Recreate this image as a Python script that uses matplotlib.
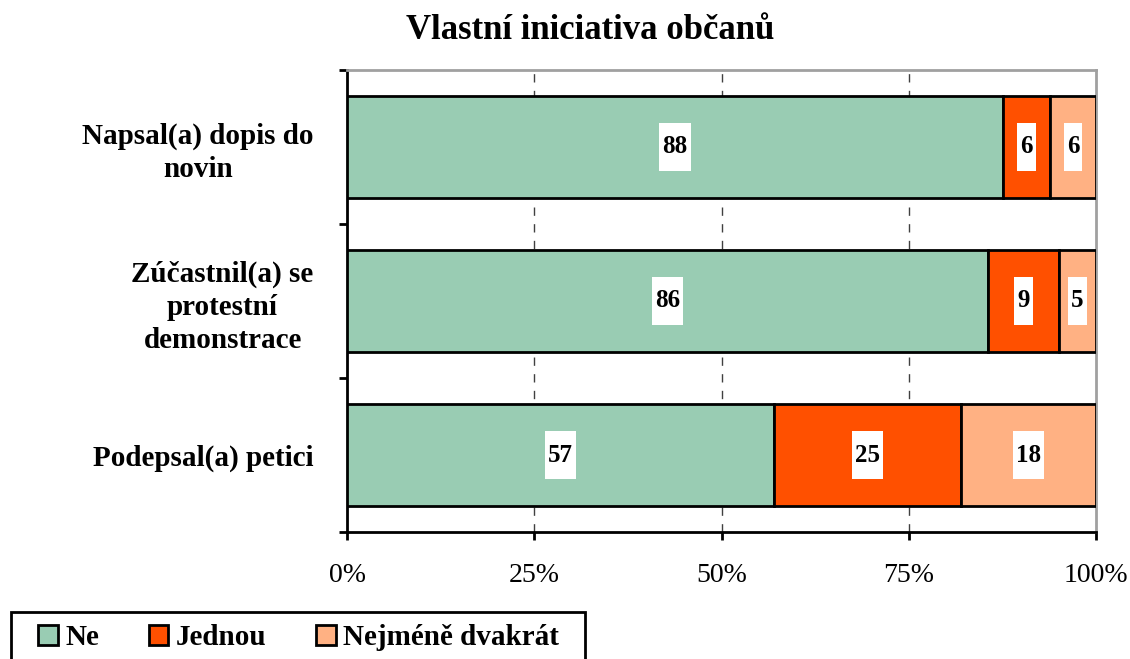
import matplotlib
matplotlib.use("Agg")
import matplotlib.pyplot as plt
from matplotlib.patches import Patch, Rectangle
from matplotlib.path import Path
import numpy as np

plt.rcParams['font.family'] = ['Liberation Serif', 'DejaVu Serif']

TITLE = "Vlastní iniciativa občanů"
categories = ["Napsal(a) dopis do\nnovin", "Zúčastnil(a) se\nprotestní\ndemonstrace", "Podepsal(a) petici"]
series_names = ["Ne", "Jednou", "Nejméně dvakrát"]
ne = [87.6, 85.6, 57.0]
jednou = [6.3, 9.4, 25.0]
dvakrat = [6.1, 5.0, 18.0]
labels_ne = [88, 86, 57]
labels_jednou = [6, 9, 25]
labels_dvakrat = [6, 5, 18]
xticks = [0, 25, 50, 75, 100]
xtick_labels = ["0%", "25%", "50%", "75%", "100%"]
colors = ["#99CCB3", "#FF5000", "#FFB183"]


def tall_box(x0, y0, width, height, mutation_size):
    # white label box: narrow at the sides, tall above and below
    px = 0.12 * mutation_size
    py = 0.5 * mutation_size
    x0, y0 = x0 - px, y0 - py
    x1, y1 = x0 + width + 2 * px, y0 + height + 2 * py
    return Path([(x0, y0), (x1, y0), (x1, y1), (x0, y1), (x0, y0)], closed=True)


fig = plt.figure(figsize=(11.3, 6.59), dpi=100)
ax = fig.add_axes([0.3071, 0.1927, 0.6628, 0.7011])

y = np.arange(len(categories))[::-1]
left = np.zeros(len(categories))
for vals, labs, col in zip([ne, jednou, dvakrat], [labels_ne, labels_jednou, labels_dvakrat], colors):
    vals = np.array(vals)
    ax.barh(y, vals, left=left, height=0.66, color=col, edgecolor="black", linewidth=2, zorder=3)
    for yi, l, v, lab in zip(y, left, vals, labs):
        ax.text(l + v / 2, yi, str(lab), ha="center", va="center", fontsize=18, fontweight="bold",
                bbox=dict(facecolor="white", edgecolor="none", boxstyle=tall_box), zorder=4)
    left = left + vals

for gx in [25, 50, 75]:
    ax.axvline(gx, color="#404040", linestyle=(0, (6, 6)), linewidth=1, zorder=1)

ax.set_xlim(0, 100)
ax.set_ylim(-0.5, len(categories) - 0.5)
ax.set_xticks(xticks)
ax.set_xticklabels(xtick_labels, fontsize=20)
ax.tick_params(axis="x", direction="out", length=6, width=2, pad=16)

ax.set_yticks(np.arange(len(categories) + 1) - 0.5)
ax.set_yticklabels([])
ax.set_yticks(y, minor=True)
ax.set_yticklabels(categories, minor=True, fontsize=21, fontweight="bold", multialignment="center",
                   linespacing=1.3)
ax.tick_params(axis="y", which="major", direction="out", length=6, width=2)
ax.tick_params(axis="y", which="minor", length=0, pad=24)

ax.spines["left"].set_linewidth(2)
ax.spines["bottom"].set_linewidth(2)
ax.spines["top"].set_color("#A0A0A0")
ax.spines["right"].set_color("#A0A0A0")
ax.spines["top"].set_linewidth(2)
ax.spines["right"].set_linewidth(2)

fig.text(0.522, 0.954, TITLE, ha="center", va="center", fontsize=25, fontweight="bold")

handles = [Patch(facecolor=c, edgecolor="black", linewidth=2) for c in colors]
leg = fig.legend(handles, series_names, loc="upper left", bbox_to_anchor=(38 / 1130, 1 - 624 / 659),
                 ncol=3, frameon=False, prop={"size": 21, "weight": "bold"},
                 handlelength=0.68, handleheight=0.68, handletextpad=0.25, columnspacing=1.7,
                 borderpad=0, borderaxespad=0)
# legend frame, wider than the entries, running off the bottom edge
fig.patches.append(Rectangle((11 / 1130, -0.05), (585 - 11) / 1130, 0.05 + (659 - 612) / 659,
                             transform=fig.transFigure, facecolor="none", edgecolor="black",
                             linewidth=2))

fig.savefig("out.png", dpi=100)
